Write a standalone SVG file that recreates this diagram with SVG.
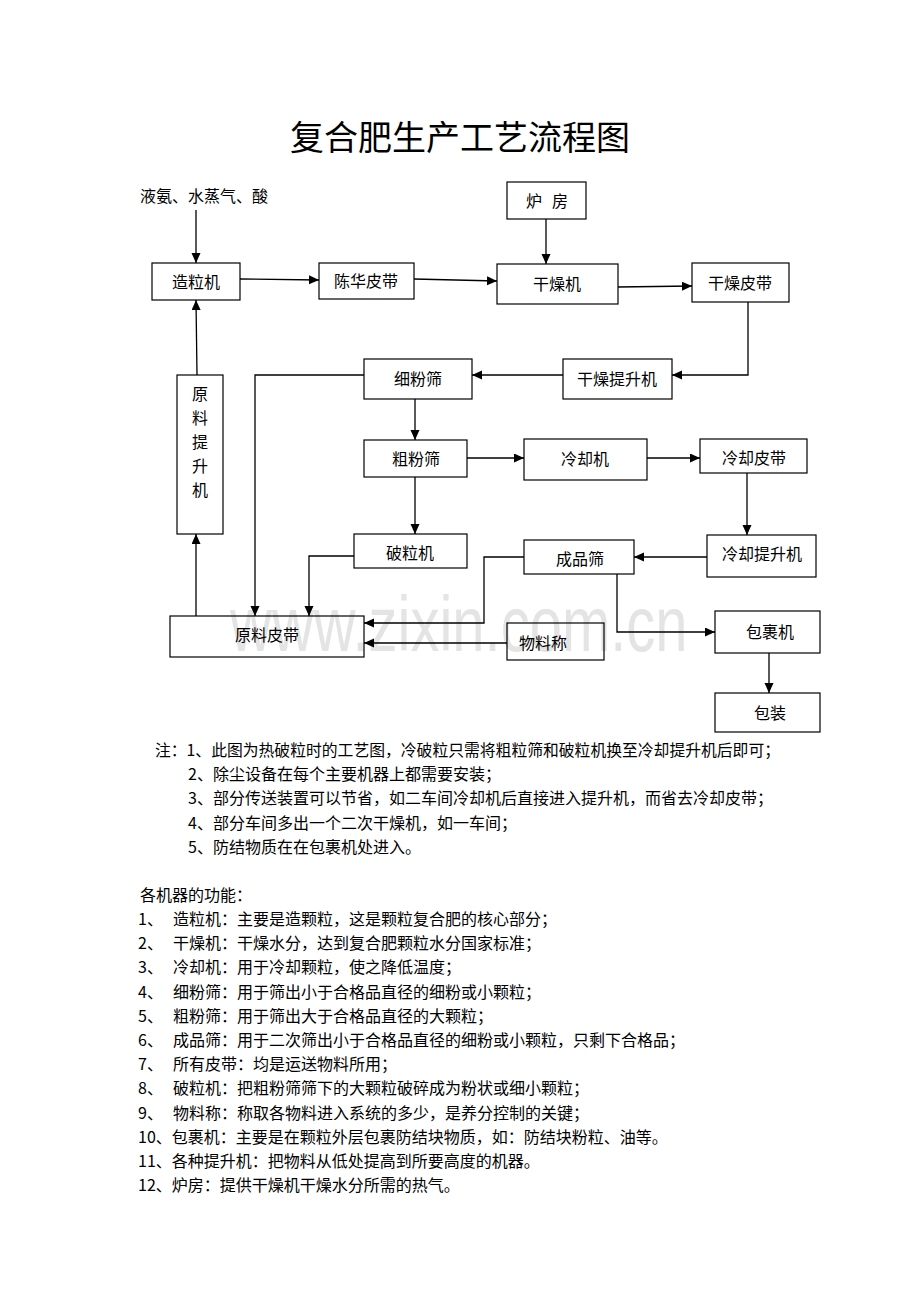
<svg xmlns="http://www.w3.org/2000/svg" width="920" height="1302" viewBox="0 0 920 1302">
<style>
text{font-family:"Noto Sans CJK SC","Noto Sans",sans-serif;fill:#000}
.lbl{font-size:16px;text-anchor:middle}
.body{font-size:16px}
.box{fill:none;stroke:#000;stroke-width:1.2}
.ln{fill:none;stroke:#000;stroke-width:1.3}
.wm{font-family:"Liberation Sans",Arial,sans-serif;font-size:58px;fill:#e4e4e4}
</style>
<defs>
<marker id="ah" markerUnits="userSpaceOnUse" markerWidth="11" markerHeight="10" refX="10" refY="4.5" orient="auto">
<path d="M0,0 L10,4.5 L0,9 z" fill="#000"/>
</marker>
</defs>
<rect width="920" height="1302" fill="#fff"/>
<text x="0" y="0" class="wm" transform="translate(230,651) scale(1,1.35)">www.zixin.com.cn</text>
<text x="460" y="150" style="font-size:34px;text-anchor:middle">复合肥生产工艺流程图</text>
<text x="140" y="202" class="body">液氨、水蒸气、酸</text>
<g id="n-zaoli"><rect class="box" x="152" y="263" width="88" height="37"/><text class="lbl" x="196" y="288">造粒机</text></g>
<g id="n-chenhua"><rect class="box" x="319" y="263" width="95" height="36"/><text class="lbl" x="366" y="287">陈华皮带</text></g>
<g id="n-lufang"><rect class="box" x="507" y="182" width="79" height="37"/><text class="lbl" x="534" y="207">炉</text><text class="lbl" x="560" y="207">房</text></g>
<g id="n-ganzao"><rect class="box" x="497" y="264" width="121" height="40"/><text class="lbl" x="557" y="290">干燥机</text></g>
<g id="n-ganzaopidai"><rect class="box" x="692" y="263" width="97" height="39"/><text class="lbl" x="740" y="289">干燥皮带</text></g>
<g id="n-ganzaotisheng"><rect class="box" x="563" y="359" width="109" height="40"/><text class="lbl" x="617" y="385">干燥提升机</text></g>
<g id="n-xifen"><rect class="box" x="364" y="359" width="108" height="40"/><text class="lbl" x="418" y="385">细粉筛</text></g>
<g id="n-yuanliaotisheng"><rect class="box" x="177" y="375" width="46" height="159"/>
<text class="lbl" x="200" y="400">原</text><text class="lbl" x="200" y="424">料</text><text class="lbl" x="200" y="448">提</text><text class="lbl" x="200" y="472">升</text><text class="lbl" x="200" y="496">机</text></g>
<g id="n-cufen"><rect class="box" x="364" y="440" width="103" height="37"/><text class="lbl" x="416" y="465">粗粉筛</text></g>
<g id="n-lengque"><rect class="box" x="524" y="439" width="123" height="41"/><text class="lbl" x="585" y="465">冷却机</text></g>
<g id="n-lengquepidai"><rect class="box" x="700" y="439" width="107" height="34"/><text class="lbl" x="754" y="464">冷却皮带</text></g>
<g id="n-poli"><rect class="box" x="354" y="534" width="113" height="34"/><text class="lbl" x="410" y="559">破粒机</text></g>
<g id="n-chengpin"><rect class="box" x="524" y="540" width="110" height="34"/><text class="lbl" x="580" y="565">成品筛</text></g>
<g id="n-lengquetisheng"><rect class="box" x="707" y="535" width="109" height="42"/><text class="lbl" x="762" y="560">冷却提升机</text></g>
<g id="n-yuanliaopidai"><rect class="box" x="170" y="616" width="194" height="41"/><text class="lbl" x="267" y="641">原料皮带</text></g>
<g id="n-wuliaocheng"><rect class="box" x="507" y="623" width="97" height="37"/><text class="lbl" x="543" y="649">物料称</text></g>
<g id="n-baoguo"><rect class="box" x="715" y="611" width="105" height="42"/><text class="lbl" x="770" y="638">包裹机</text></g>
<g id="n-baozhuang"><rect class="box" x="715" y="693" width="105" height="39"/><text class="lbl" x="770" y="719">包装</text></g>
<g id="connectors">
<path class="ln" d="M196,210 L196,263" marker-end="url(#ah)"/>
<path class="ln" d="M240,279 L319,280" marker-end="url(#ah)"/>
<path class="ln" d="M414,279 L497,281" marker-end="url(#ah)"/>
<path class="ln" d="M546,219 L546,264" marker-end="url(#ah)"/>
<path class="ln" d="M618,287 L692,286" marker-end="url(#ah)"/>
<path class="ln" d="M748,302 L748,375 L672,375" marker-end="url(#ah)"/>
<path class="ln" d="M563,375 L472,375" marker-end="url(#ah)"/>
<path class="ln" d="M364,375 L255,375 L255,616" marker-end="url(#ah)"/>
<path class="ln" d="M415,399 L415,440" marker-end="url(#ah)"/>
<path class="ln" d="M415,477 L415,534" marker-end="url(#ah)"/>
<path class="ln" d="M467,458 L524,458" marker-end="url(#ah)"/>
<path class="ln" d="M647,458 L700,458" marker-end="url(#ah)"/>
<path class="ln" d="M747,473 L747,535" marker-end="url(#ah)"/>
<path class="ln" d="M707,557 L634,557" marker-end="url(#ah)"/>
<path class="ln" d="M524,557 L484,557 L484,623 L364,623" marker-end="url(#ah)"/>
<path class="ln" d="M507,643 L364,643" marker-end="url(#ah)"/>
<path class="ln" d="M617,574 L617,632 L715,632" marker-end="url(#ah)"/>
<path class="ln" d="M769,653 L769,693" marker-end="url(#ah)"/>
<path class="ln" d="M354,556 L309,556 L309,616" marker-end="url(#ah)"/>
<path class="ln" d="M196,616 L196,534" marker-end="url(#ah)"/>
<path class="ln" d="M197,375 L196,300" marker-end="url(#ah)"/>
</g>
<g id="notes" class="body">
<text x="155" y="756" class="body" textLength="625" lengthAdjust="spacingAndGlyphs">注：1、此图为热破粒时的工艺图，冷破粒只需将粗粒筛和破粒机换至冷却提升机后即可；</text>
<text x="188" y="780" class="body">2、除尘设备在每个主要机器上都需要安装；</text>
<text x="188" y="804" class="body">3、部分传送装置可以节省，如二车间冷却机后直接进入提升机，而省去冷却皮带；</text>
<text x="188" y="829" class="body">4、部分车间多出一个二次干燥机，如一车间；</text>
<text x="188" y="853" class="body">5、防结物质在在包裹机处进入。</text>
</g>
<g id="functions">
<text x="140" y="901" class="body">各机器的功能：</text>
<text x="138" y="925" class="body">1、</text><text x="173" y="925" class="body">造粒机：主要是造颗粒，这是颗粒复合肥的核心部分；</text>
<text x="138" y="949" class="body">2、</text><text x="173" y="949" class="body">干燥机：干燥水分，达到复合肥颗粒水分国家标准；</text>
<text x="138" y="973" class="body">3、</text><text x="173" y="973" class="body">冷却机：用于冷却颗粒，使之降低温度；</text>
<text x="138" y="998" class="body">4、</text><text x="173" y="998" class="body">细粉筛：用于筛出小于合格品直径的细粉或小颗粒；</text>
<text x="138" y="1022" class="body">5、</text><text x="173" y="1022" class="body">粗粉筛：用于筛出大于合格品直径的大颗粒；</text>
<text x="138" y="1046" class="body">6、</text><text x="173" y="1046" class="body">成品筛：用于二次筛出小于合格品直径的细粉或小颗粒，只剩下合格品；</text>
<text x="138" y="1070" class="body">7、</text><text x="173" y="1070" class="body">所有皮带：均是运送物料所用；</text>
<text x="138" y="1094" class="body">8、</text><text x="173" y="1094" class="body">破粒机：把粗粉筛筛下的大颗粒破碎成为粉状或细小颗粒；</text>
<text x="138" y="1119" class="body">9、</text><text x="173" y="1119" class="body">物料称：称取各物料进入系统的多少，是养分控制的关键；</text>
<text x="138" y="1143" class="body">10、包裹机：主要是在颗粒外层包裹防结块物质，如：防结块粉粒、油等。</text>
<text x="138" y="1167" class="body">11、各种提升机：把物料从低处提高到所要高度的机器。</text>
<text x="138" y="1191" class="body">12、炉房：提供干燥机干燥水分所需的热气。</text>
</g>
</svg>
